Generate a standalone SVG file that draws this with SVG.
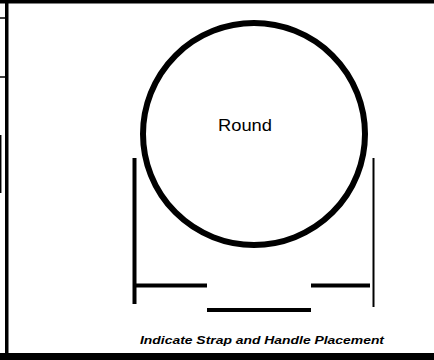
<svg xmlns="http://www.w3.org/2000/svg" width="434" height="360" viewBox="0 0 434 360">
<style>
.ln{stroke:#000;fill:none}
.t{font-family:"Liberation Sans",Arial,sans-serif;fill:#000}
</style>
<rect width="434" height="360" fill="#fff"/>
<g id="frame">
<rect x="0" y="0" width="434" height="3.5" fill="#000"/>
<rect x="0" y="353" width="434" height="7" fill="#000"/>
<rect x="5" y="0" width="3.5" height="360" fill="#000"/>
<line class="ln" x1="0" y1="18" x2="5" y2="18" stroke-width="1.5"/>
<line class="ln" x1="0" y1="77" x2="5" y2="77" stroke-width="1.5"/>
<line class="ln" x1="0.7" y1="135" x2="0.7" y2="193" stroke-width="1.5"/>
</g>
<g id="round">
<circle class="ln" cx="254" cy="134" r="111" stroke-width="6"/>
<text class="t" x="245" y="131" font-size="16" text-anchor="middle" textLength="54" lengthAdjust="spacingAndGlyphs">Round</text>
</g>
<g id="connectors">
<line class="ln" x1="134.5" y1="158" x2="134.5" y2="304" stroke-width="4"/>
<line class="ln" x1="373.5" y1="158" x2="373.5" y2="307" stroke-width="2"/>
<line class="ln" x1="136" y1="285.5" x2="207" y2="285.5" stroke-width="4"/>
<line class="ln" x1="311" y1="285.5" x2="370" y2="285.5" stroke-width="4"/>
<line class="ln" x1="207" y1="310" x2="311" y2="310" stroke-width="4"/>
</g>
<g id="caption">
<text class="t" x="262" y="344" font-size="11" font-weight="bold" font-style="italic" text-anchor="middle" textLength="244" lengthAdjust="spacingAndGlyphs">Indicate Strap and Handle Placement</text>
</g>
</svg>
